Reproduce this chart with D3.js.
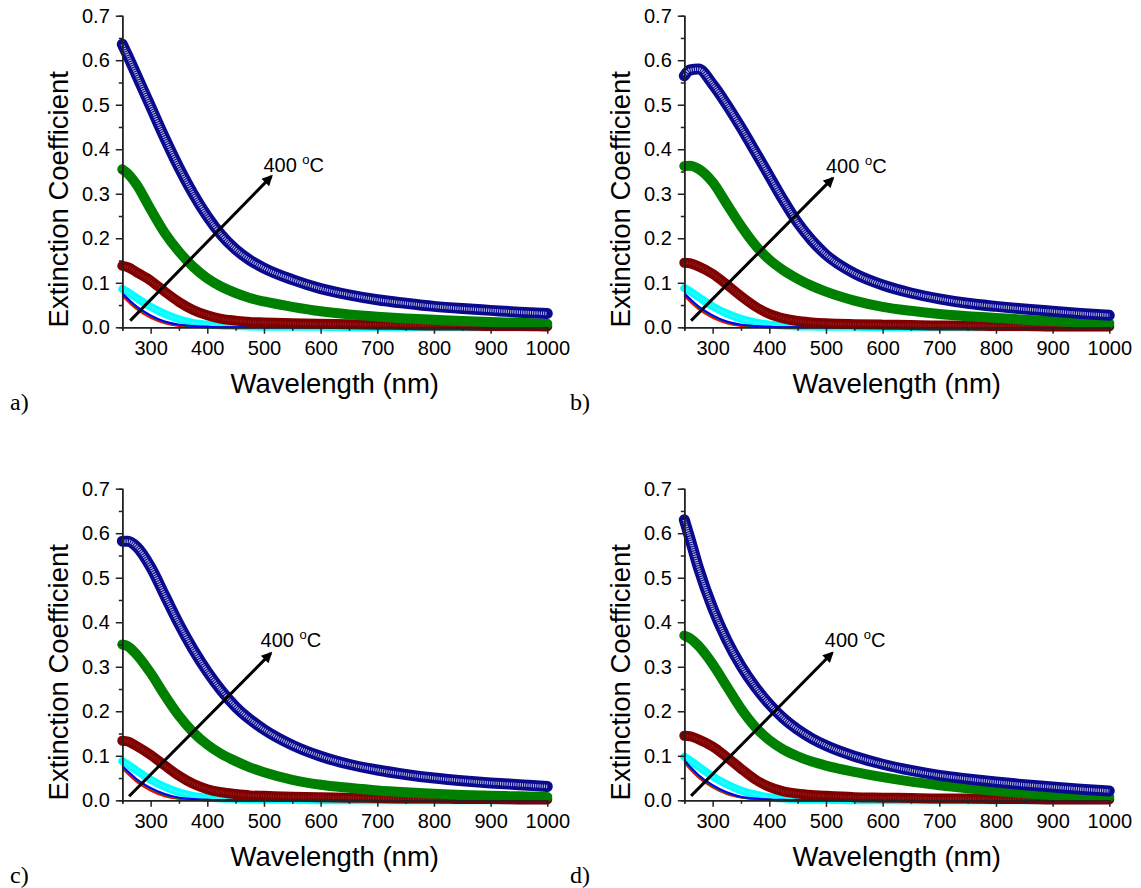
<!DOCTYPE html>
<html>
<head>
<meta charset="utf-8">
<script src="https://cdn.jsdelivr.net/npm/d3@7"></script>
<style>
  body { margin: 0; background: #fff; }
  svg { display: block; }
</style>
</head>
<body>
<svg id="chart" width="1141" height="888"></svg>
<script>
// Wavelength grid (nm) shared by every series
const wavelengths = [250, 260, 275, 300, 325, 350, 375, 400, 425, 450, 475, 500, 550, 600, 650, 700, 750, 800, 850, 900, 950, 1000];

// Panel a) extinction coefficient
const navyA   = [0.636, 0.609, 0.567, 0.496, 0.425, 0.359, 0.300, 0.249, 0.207, 0.175, 0.151, 0.133, 0.107, 0.087, 0.073, 0.062, 0.054, 0.047, 0.042, 0.038, 0.034, 0.031];
const olivA   = [0.355, 0.345, 0.321, 0.265, 0.212, 0.170, 0.136, 0.110, 0.091, 0.077, 0.066, 0.058, 0.046, 0.036, 0.029, 0.024, 0.020, 0.017, 0.014, 0.012, 0.010, 0.008];
const wineA   = [0.138, 0.135, 0.124, 0.105, 0.080, 0.057, 0.039, 0.027, 0.019, 0.015, 0.012, 0.011, 0.009, 0.008, 0.007, 0.006, 0.005, 0.004, 0.004, 0.003, 0.003, 0.002];
const cyanA   = [0.086, 0.079, 0.066, 0.046, 0.030, 0.018, 0.010, 0.006, 0.004, 0.003, 0.002, 0.001, 0.001, 0.001, 0, 0, 0, 0, 0, 0, 0, 0];
const blueA   = [0.076, 0.064, 0.047, 0.027, 0.013, 0.006, 0.003, 0.001, 0, 0, 0, 0, 0, 0, 0, 0, 0, 0, 0, 0, 0, 0];
const greenA  = [0.074, 0.062, 0.045, 0.025, 0.012, 0.005, 0.002, 0.001, 0, 0, 0, 0, 0, 0, 0, 0, 0, 0, 0, 0, 0, 0];
const redA    = [0.071, 0.058, 0.041, 0.021, 0.009, 0.003, 0.001, 0, 0, 0, 0, 0, 0, 0, 0, 0, 0, 0, 0, 0, 0, 0];

// Panel b)
const navyB   = [0.565, 0.578, 0.580, 0.546, 0.500, 0.449, 0.395, 0.340, 0.285, 0.235, 0.195, 0.163, 0.121, 0.095, 0.077, 0.064, 0.054, 0.047, 0.041, 0.036, 0.031, 0.027];
const olivB   = [0.362, 0.363, 0.356, 0.326, 0.277, 0.228, 0.185, 0.152, 0.128, 0.109, 0.093, 0.080, 0.060, 0.046, 0.037, 0.030, 0.025, 0.021, 0.017, 0.014, 0.011, 0.009];
const wineB   = [0.145, 0.144, 0.137, 0.120, 0.096, 0.070, 0.047, 0.030, 0.020, 0.014, 0.011, 0.009, 0.007, 0.006, 0.005, 0.004, 0.004, 0.003, 0.003, 0.002, 0.002, 0.002];
const cyanB   = [0.088, 0.081, 0.068, 0.047, 0.031, 0.019, 0.011, 0.006, 0.004, 0.002, 0.002, 0.001, 0.001, 0, 0, 0, 0, 0, 0, 0, 0, 0];
const blueB   = [0.076, 0.064, 0.047, 0.027, 0.013, 0.006, 0.003, 0.001, 0, 0, 0, 0, 0, 0, 0, 0, 0, 0, 0, 0, 0, 0];
const greenB  = [0.074, 0.062, 0.045, 0.025, 0.012, 0.005, 0.002, 0.001, 0, 0, 0, 0, 0, 0, 0, 0, 0, 0, 0, 0, 0, 0];
const redB    = [0.071, 0.058, 0.041, 0.021, 0.009, 0.003, 0.001, 0, 0, 0, 0, 0, 0, 0, 0, 0, 0, 0, 0, 0, 0, 0];

// Panel c)
const navyC   = [0.582, 0.582, 0.570, 0.524, 0.460, 0.396, 0.339, 0.289, 0.246, 0.210, 0.182, 0.159, 0.124, 0.099, 0.081, 0.068, 0.058, 0.050, 0.044, 0.039, 0.035, 0.031];
const olivC   = [0.350, 0.346, 0.328, 0.286, 0.236, 0.190, 0.153, 0.125, 0.104, 0.088, 0.074, 0.063, 0.046, 0.035, 0.028, 0.022, 0.018, 0.015, 0.012, 0.010, 0.009, 0.0075];
const wineC   = [0.134, 0.132, 0.122, 0.102, 0.078, 0.055, 0.037, 0.025, 0.018, 0.014, 0.011, 0.010, 0.008, 0.007, 0.006, 0.005, 0.004, 0.004, 0.003, 0.003, 0.002, 0.002];
const cyanC   = [0.088, 0.080, 0.067, 0.046, 0.030, 0.018, 0.010, 0.006, 0.004, 0.003, 0.002, 0.001, 0.001, 0, 0, 0, 0, 0, 0, 0, 0, 0];
const blueC   = [0.077, 0.065, 0.048, 0.028, 0.014, 0.006, 0.003, 0.001, 0, 0, 0, 0, 0, 0, 0, 0, 0, 0, 0, 0, 0, 0];
const greenC  = [0.075, 0.063, 0.046, 0.026, 0.012, 0.005, 0.002, 0.001, 0, 0, 0, 0, 0, 0, 0, 0, 0, 0, 0, 0, 0, 0];
const redC    = [0.072, 0.059, 0.042, 0.022, 0.009, 0.003, 0.001, 0, 0, 0, 0, 0, 0, 0, 0, 0, 0, 0, 0, 0, 0, 0];

// Panel d)
const navyD   = [0.630, 0.588, 0.522, 0.432, 0.360, 0.302, 0.255, 0.216, 0.184, 0.159, 0.139, 0.123, 0.099, 0.081, 0.067, 0.056, 0.048, 0.041, 0.035, 0.030, 0.025, 0.021];
const olivD   = [0.370, 0.364, 0.347, 0.306, 0.256, 0.206, 0.165, 0.135, 0.114, 0.099, 0.087, 0.078, 0.064, 0.052, 0.042, 0.034, 0.027, 0.021, 0.016, 0.012, 0.009, 0.0075];
const wineD   = [0.145, 0.144, 0.137, 0.121, 0.097, 0.071, 0.047, 0.030, 0.020, 0.015, 0.012, 0.010, 0.007, 0.006, 0.005, 0.004, 0.004, 0.003, 0.003, 0.002, 0.002, 0.002];
const cyanD   = [0.098, 0.090, 0.076, 0.054, 0.036, 0.022, 0.013, 0.007, 0.004, 0.002, 0.001, 0.001, 0, 0, 0, 0, 0, 0, 0, 0, 0, 0];
const blueD   = [0.090, 0.076, 0.057, 0.034, 0.018, 0.008, 0.004, 0.002, 0.001, 0, 0, 0, 0, 0, 0, 0, 0, 0, 0, 0, 0, 0];
const greenD  = [0.088, 0.074, 0.055, 0.032, 0.016, 0.007, 0.003, 0.001, 0, 0, 0, 0, 0, 0, 0, 0, 0, 0, 0, 0, 0, 0];
const redD    = [0.085, 0.070, 0.051, 0.029, 0.014, 0.006, 0.002, 0.001, 0, 0, 0, 0, 0, 0, 0, 0, 0, 0, 0, 0, 0, 0];

// Axis ticks
const xMajorTicks = [300, 400, 500, 600, 700, 800, 900, 1000];
const xMinorTicks = [250, 350, 450, 550, 650, 750, 850, 950];
const yMajorTicks = [0, 0.1, 0.2, 0.3, 0.4, 0.5, 0.6, 0.7];
const yMinorTicks = [0.05, 0.15, 0.25, 0.35, 0.45, 0.55, 0.65];

// Annotation arrow (wavelength, coefficient) per panel
const arrowTailA = [264, 0.015], arrowHeadA = [513, 0.339], noteA = [499, 0.349];
const arrowTailB = [262, 0.015], arrowHeadB = [512, 0.335], noteB = [500, 0.347];
const arrowTailC = [262, 0.009], arrowHeadC = [512, 0.330], noteC = [494, 0.345];
const arrowTailD = [262, 0.010], arrowHeadD = [511, 0.331], noteD = [498, 0.345];

const panels = [
  { label: "a)", ox: 122.3, oy: 327.3, lx: 10,  ly: 410,
    series: { red: redA, green: greenA, blue: blueA, cyan: cyanA, wine: wineA, olive: olivA, navy: navyA },
    tail: arrowTailA, head: arrowHeadA, note: noteA },
  { label: "b)", ox: 684.3, oy: 327.3, lx: 570, ly: 410,
    series: { red: redB, green: greenB, blue: blueB, cyan: cyanB, wine: wineB, olive: olivB, navy: navyB },
    tail: arrowTailB, head: arrowHeadB, note: noteB },
  { label: "c)", ox: 122.3, oy: 800.3, lx: 10,  ly: 883,
    series: { red: redC, green: greenC, blue: blueC, cyan: cyanC, wine: wineC, olive: olivC, navy: navyC },
    tail: arrowTailC, head: arrowHeadC, note: noteC },
  { label: "d)", ox: 684.3, oy: 800.3, lx: 570, ly: 883,
    series: { red: redD, green: greenD, blue: blueD, cyan: cyanD, wine: wineD, olive: olivD, navy: navyD },
    tail: arrowTailD, head: arrowHeadD, note: noteD }
];

const plotW = 425, plotH = 311.6;
const sans = "'Liberation Sans', Arial, sans-serif";
const svg = d3.select("#chart");

svg.append("defs").append("marker")
  .attr("id", "arrowhead")
  .attr("viewBox", "0 0 10 10")
  .attr("refX", 8).attr("refY", 5)
  .attr("markerWidth", 4.2).attr("markerHeight", 3.6)
  .attr("markerUnits", "strokeWidth")
  .attr("orient", "auto")
  .append("path").attr("d", "M0,0 L10,5 L0,10 Z").attr("fill", "#000");

panels.forEach(p => {
  const x = d3.scaleLinear().domain([250, 1000]).range([p.ox, p.ox + plotW]);
  const y = d3.scaleLinear().domain([0, 0.7]).range([p.oy, p.oy - plotH]);
  const g = svg.append("g");

  const line = d3.line()
    .x((d, i) => x(wavelengths[i]))
    .y(d => y(d))
    .curve(d3.curveMonotoneX);

  // Lower series: cyan band and thin lines
  g.append("path").attr("d", line(p.series.cyan))
    .attr("fill", "none").attr("stroke", "#00FFFF").attr("stroke-width", 8)
    .attr("stroke-linecap", "round");
  g.append("path").attr("d", line(p.series.cyan))
    .attr("fill", "none").attr("stroke", "#80f4ff").attr("stroke-width", 2)
    .attr("stroke-dasharray", "1 1.5").attr("opacity", 0.7);
  [["red", "#FF0000"], ["green", "#008000"], ["blue", "#0000FF"]].forEach(([k, c]) => {
    g.append("path").attr("d", line(p.series[k]))
      .attr("fill", "none").attr("stroke", c).attr("stroke-width", 2);
  });

  // Wine band (cross markers)
  g.append("path").attr("d", line(p.series.wine))
    .attr("fill", "none").attr("stroke", "#800000").attr("stroke-width", 10)
    .attr("stroke-linecap", "round");
  g.append("path").attr("d", line(p.series.wine))
    .attr("fill", "none").attr("stroke", "#a04444").attr("stroke-width", 3)
    .attr("stroke-dasharray", "1 1.5").attr("opacity", 0.5);

  // Green band (star markers)
  g.append("path").attr("d", line(p.series.olive))
    .attr("fill", "none").attr("stroke", "#008000").attr("stroke-width", 10)
    .attr("stroke-linecap", "round");

  // Navy band (open circle markers)
  g.append("path").attr("d", line(p.series.navy))
    .attr("fill", "none").attr("stroke", "#0a0a8e").attr("stroke-width", 11)
    .attr("stroke-linecap", "round");
  g.append("path").attr("d", line(p.series.navy))
    .attr("fill", "none").attr("stroke", "#ffffff").attr("stroke-width", 3.5)
    .attr("stroke-dasharray", "1.1 1.1").attr("opacity", 0.7);

  // Axes
  const axisStyle = sel => {
    sel.select(".domain").attr("stroke", "#222").attr("stroke-width", 1.5);
    sel.selectAll(".tick line").attr("stroke", "#222").attr("stroke-width", 1.5);
    sel.selectAll("text").attr("font-family", sans).attr("font-size", 20).attr("fill", "#000");
  };
  g.append("g").attr("transform", `translate(0,${p.oy})`)
    .call(d3.axisBottom(x).tickValues(xMinorTicks).tickSize(3.5).tickFormat(""))
    .call(axisStyle);
  g.append("g").attr("transform", `translate(0,${p.oy})`)
    .call(d3.axisBottom(x).tickValues(xMajorTicks).tickSize(6.5).tickPadding(7).tickSizeOuter(0).tickFormat(d3.format("d")))
    .call(axisStyle);
  g.append("g").attr("transform", `translate(${p.ox},0)`)
    .call(d3.axisLeft(y).tickValues(yMinorTicks).tickSize(3.5).tickFormat(""))
    .call(axisStyle);
  g.append("g").attr("transform", `translate(${p.ox},0)`)
    .call(d3.axisLeft(y).tickValues(yMajorTicks).tickSize(6.5).tickPadding(6).tickSizeOuter(0).tickFormat(d3.format(".1f")))
    .call(axisStyle);

  // Axis titles
  g.append("text")
    .attr("x", p.ox + plotW / 2).attr("y", p.oy + 66)
    .attr("text-anchor", "middle")
    .attr("font-family", sans).attr("font-size", 27.5)
    .text("Wavelength (nm)");
  g.append("text")
    .attr("transform", `translate(${p.ox - 54},${p.oy - 128}) rotate(-90)`)
    .attr("text-anchor", "middle")
    .attr("font-family", sans).attr("font-size", 27.5)
    .text("Extinction Coefficient");

  // Temperature arrow
  g.append("line")
    .attr("x1", x(p.tail[0])).attr("y1", y(p.tail[1]))
    .attr("x2", x(p.head[0])).attr("y2", y(p.head[1]))
    .attr("stroke", "#000").attr("stroke-width", 3)
    .attr("marker-end", "url(#arrowhead)");
  const note = g.append("text")
    .attr("x", x(p.note[0])).attr("y", y(p.note[1]))
    .attr("font-family", sans).attr("font-size", 20);
  note.append("tspan").text("400 ");
  note.append("tspan").attr("font-size", 13).attr("dy", -8).text("o");
  note.append("tspan").attr("dy", 8).text("C");

  // Panel letter
  svg.append("text")
    .attr("x", p.lx).attr("y", p.ly)
    .attr("font-family", "'Liberation Serif', 'Times New Roman', serif")
    .attr("font-size", 24)
    .text(p.label);
});
</script>
</body>
</html>
